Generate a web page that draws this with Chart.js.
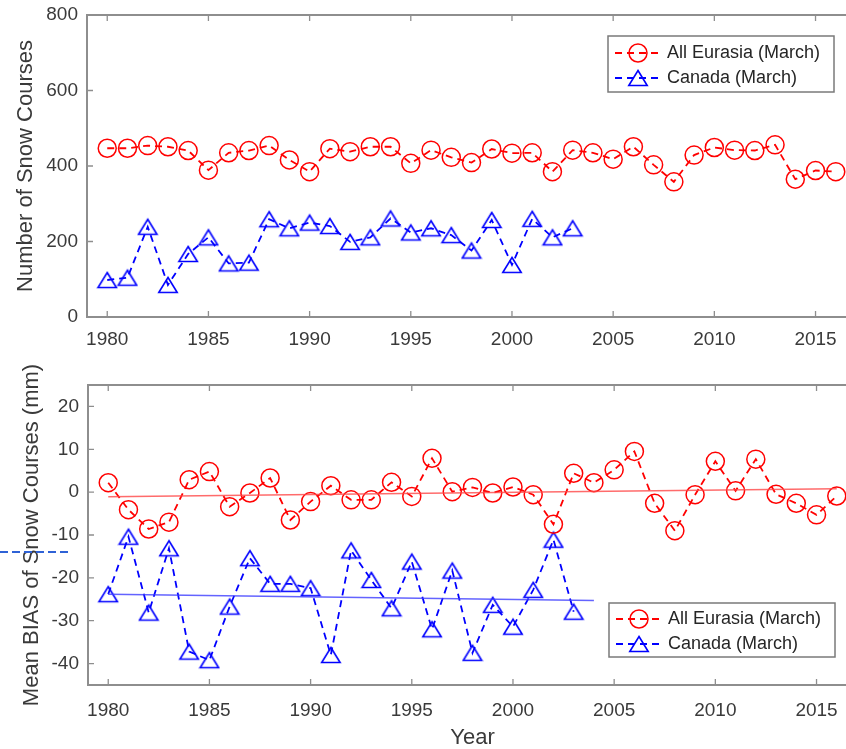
<!DOCTYPE html>
<html>
<head>
<meta charset="utf-8">
<script src="https://cdn.jsdelivr.net/npm/chart.js@4.4.1/dist/chart.umd.min.js"></script>
<style>
html,body{margin:0;padding:0;background:#fff;}
body{width:846px;height:749px;overflow:hidden;position:relative;}
canvas{position:absolute;left:0;}
#top{top:0;}
#bottom{top:345px;}
#stray{top:547px;}
</style>
</head>
<body>
<canvas id="top" width="880" height="360"></canvas>
<canvas id="bottom" width="880" height="404"></canvas>
<canvas id="stray" width="68" height="10"></canvas>
<script>
// ---- data ----
const years = [1980,1981,1982,1983,1984,1985,1986,1987,1988,1989,1990,1991,1992,1993,1994,1995,1996,1997,1998,1999,2000,2001,2002,2003,2004,2005,2006,2007,2008,2009,2010,2011,2012,2013,2014,2015,2016];
const canadaYears = [1980,1981,1982,1983,1984,1985,1986,1987,1988,1989,1990,1991,1992,1993,1994,1995,1996,1997,1998,1999,2000,2001,2002,2003];
const eurasiaCount = [447,447,454,451,441,389,435,441,454,416,385,446,438,451,451,407,442,423,409,445,434,435,385,442,435,418,451,403,358,429,449,442,441,456,365,388,385];
const canadaCount = [98,104,239,85,167,211,142,144,259,235,250,241,199,211,261,224,235,217,176,257,138,260,211,235];
const eurasiaBias = [2.2,-4.1,-8.6,-7.0,2.9,4.8,-3.4,-0.2,3.3,-6.5,-2.2,1.5,-1.8,-1.8,2.3,-1.0,7.9,0.1,1.1,-0.2,1.2,-0.6,-7.5,4.4,2.2,5.2,9.5,-2.6,-9.0,-0.6,7.2,0.3,7.7,-0.5,-2.6,-5.3,-0.9];
const canadaBias = [-23.8,-10.4,-28.1,-13.1,-37.2,-39.2,-26.7,-15.4,-21.4,-21.4,-22.4,-38.0,-13.6,-20.5,-27.1,-16.2,-32.0,-18.3,-37.5,-26.3,-31.4,-22.8,-11.1,-27.9];
const eurasiaTrendYears = [1980, 2016];
const eurasiaTrend = [-1.1, 0.8];
const canadaTrendYears = [1980, 2004];
const canadaTrend = [-23.8, -25.3];
const xTicks = [1980,1985,1990,1995,2000,2005,2010,2015];
const countTicks = [0,200,400,600,800];
const biasTicks = [-40,-30,-20,-10,0,10,20];
const seriesLabels = ['All Eurasia (March)', 'Canada (March)'];

// ---- styling ----
const RED = '#ff0000', BLUE = '#0000ff';
const FONT = "'Liberation Sans', Arial, sans-serif";
const TXT = '#3a3a3a';
Chart.defaults.font.family = FONT;

function pts(xs, ys){ return xs.map((x,i)=>({x:x, y:ys[i]})); }

function makeTriangle(color){
  const c = document.createElement('canvas');
  c.width = 22; c.height = 20;
  const g = c.getContext('2d');
  g.strokeStyle = color; g.lineWidth = 1.6; g.lineJoin = 'miter';
  g.beginPath(); g.moveTo(11, 2.5); g.lineTo(20.2, 17.5); g.lineTo(1.8, 17.5); g.closePath(); g.stroke();
  return c;
}
const triImg = makeTriangle(BLUE);

const framePlugin = {
  id: 'frame',
  beforeDatasetsDraw(chart){
    const ctx = chart.ctx, a = chart.chartArea, x = chart.scales.x, y = chart.scales.y;
    ctx.save();
    ctx.strokeStyle = '#8e8e8e'; ctx.lineWidth = 2;
    ctx.strokeRect(a.left, a.top, a.right - a.left, a.bottom - a.top);
    ctx.lineWidth = 1.3;
    ctx.beginPath();
    x.ticks.forEach(t => {
      const px = x.getPixelForValue(t.value);
      ctx.moveTo(px, a.bottom); ctx.lineTo(px, a.bottom - 6);
      ctx.moveTo(px, a.top); ctx.lineTo(px, a.top + 6);
    });
    y.ticks.forEach(t => {
      const py = y.getPixelForValue(t.value);
      ctx.moveTo(a.left, py); ctx.lineTo(a.left + 6, py);
      ctx.moveTo(a.right, py); ctx.lineTo(a.right - 6, py);
    });
    ctx.stroke();
    ctx.restore();
  }
};

const boxLegend = {
  id: 'boxLegend',
  afterDatasetsDraw(chart, args, opts){
    const ctx = chart.ctx, a = chart.chartArea;
    const w = 226, h = opts.height;
    const left = a.right - opts.right - w;
    const top = opts.anchor === 'top' ? a.top + opts.offset : a.bottom - opts.offset - h;
    ctx.save();
    ctx.fillStyle = '#fff'; ctx.fillRect(left, top, w, h);
    ctx.strokeStyle = '#7a7a7a'; ctx.lineWidth = 1.5; ctx.strokeRect(left, top, w, h);
    const items = chart.data.datasets.filter(d => d.label);
    items.forEach((d, i) => {
      const yy = top + opts.rows[i];
      const mx = left + 30;
      ctx.strokeStyle = d.borderColor; ctx.lineWidth = 1.8; ctx.setLineDash([7,5]);
      ctx.beginPath(); ctx.moveTo(left + 7, yy); ctx.lineTo(left + 51, yy); ctx.stroke();
      ctx.setLineDash([]);
      if (d.pointStyle === 'circle') {
        ctx.lineWidth = 1.5;
        ctx.beginPath(); ctx.arc(mx, yy, 9, 0, Math.PI * 2); ctx.stroke();
      } else {
        ctx.drawImage(triImg, mx - 11, yy - 10);
      }
      ctx.fillStyle = '#262626'; ctx.font = '18px ' + FONT;
      ctx.textBaseline = 'middle'; ctx.textAlign = 'left';
      ctx.fillText(d.label, left + 59, yy);
    });
    ctx.restore();
  }
};

function seriesDS(label, data, color, style){
  return {
    label: label, data: data, borderColor: color, backgroundColor: 'rgba(0,0,0,0)',
    borderWidth: 1.8, borderDash: [7,5], fill: false, tension: 0,
    pointStyle: style, pointRadius: style === 'circle' ? 9 : 10,
    pointBorderWidth: 1.5, pointBorderColor: color, pointBackgroundColor: 'rgba(0,0,0,0)'
  };
}
function trendDS(data, color){
  return { data: data, borderColor: color, borderWidth: 1.5, pointRadius: 0, fill: false, tension: 0 };
}

function xScale(height, padding, title){
  return {
    type: 'linear', min: 1979, max: 2017,
    afterBuildTicks: s => { s.ticks = xTicks.map(v => ({value: v})); },
    afterFit: s => { s.height = height; s.paddingLeft = 0; s.paddingRight = 0; s.paddingTop = 0; s.paddingBottom = 0; },
    grid: {display: false, drawTicks: false, tickLength: 0}, border: {display: false},
    ticks: {font: {size: 19}, color: TXT, padding: padding, maxRotation: 0, autoSkip: false, callback: v => String(v)},
    title: title ? {display: true, text: title, color: TXT, font: {size: 22, lineHeight: 1}, padding: {top: 0, bottom: 0}} : {display: false}
  };
}
function yScale(min, max, ticks, width, title, tpad){
  return {
    type: 'linear', min: min, max: max,
    afterBuildTicks: s => { s.ticks = ticks.map(v => ({value: v})); },
    afterFit: s => { s.width = width; s.paddingLeft = 0; s.paddingRight = 0; s.paddingTop = 0; s.paddingBottom = 0; },
    grid: {display: false, drawTicks: false, tickLength: 0}, border: {display: false},
    ticks: {font: {size: 19}, color: TXT, padding: 9, callback: v => String(v)},
    title: {display: true, text: title, color: TXT, font: {size: 22}, padding: {top: tpad, bottom: 0}}
  };
}

new Chart(document.getElementById('top'), {
  type: 'line',
  data: {
    datasets: [
      seriesDS(seriesLabels[0], pts(years, eurasiaCount), RED, 'circle'),
      seriesDS(seriesLabels[1], pts(canadaYears, canadaCount), BLUE, triImg)
    ]
  },
  options: {
    responsive: false, animation: false, events: [],
    layout: {padding: {top: 15, right: 24, left: 0, bottom: 0}},
    scales: {
      x: xScale(43, 11, null),
      y: yScale(0, 800, countTicks, 87, 'Number of Snow Courses', 13)
    },
    plugins: {
      legend: {display: false}, tooltip: {enabled: false},
      boxLegend: {anchor: 'top', right: 22, offset: 21, height: 56, rows: [17, 42]}
    }
  },
  plugins: [framePlugin, boxLegend]
});

new Chart(document.getElementById('bottom'), {
  type: 'line',
  data: {
    datasets: [
      trendDS(pts(eurasiaTrendYears, eurasiaTrend), 'rgba(255,70,70,0.8)'),
      trendDS(pts(canadaTrendYears, canadaTrend), 'rgba(60,60,255,0.8)'),
      seriesDS(seriesLabels[0], pts(years, eurasiaBias), RED, 'circle'),
      seriesDS(seriesLabels[1], pts(canadaYears, canadaBias), BLUE, triImg)
    ]
  },
  options: {
    responsive: false, animation: false, events: [],
    layout: {padding: {top: 40, right: 23, left: 0, bottom: 0}},
    scales: {
      x: xScale(64, 14, 'Year'),
      y: yScale(-45, 25, biasTicks, 88, 'Mean BIAS of Snow Courses (mm)', 19)
    },
    plugins: {
      legend: {display: false}, tooltip: {enabled: false},
      boxLegend: {anchor: 'bottom', right: 22, offset: 28, height: 54, rows: [16, 41]}
    }
  },
  plugins: [framePlugin, boxLegend]
});

// stray dashed artefact at left edge of the reference image
(function(){
  const s = document.getElementById('stray').getContext('2d');
  s.strokeStyle = '#2f62d6'; s.lineWidth = 2; s.setLineDash([8,4]);
  s.beginPath(); s.moveTo(0, 5); s.lineTo(68, 5); s.stroke();
})();
</script>
</body>
</html>
